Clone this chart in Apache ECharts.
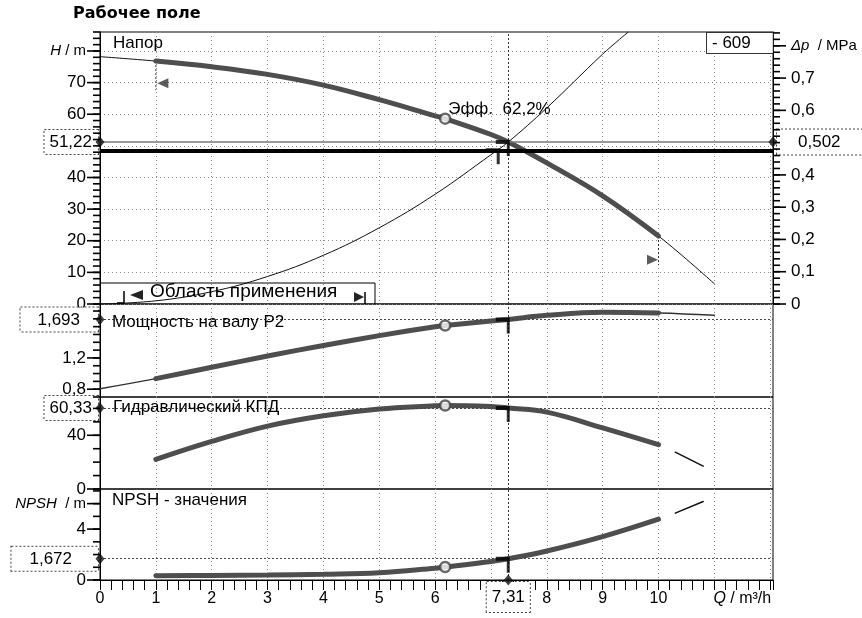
<!DOCTYPE html>
<html><head><meta charset="utf-8">
<script src="https://cdn.jsdelivr.net/npm/echarts@6/dist/echarts.min.js"></script>
<style>html,body{margin:0;padding:0;background:#fff}#c{width:862px;height:618px}</style>
</head><body><div id="c"></div>
<script>
// ---------------- data ----------------
const qHead = [0, 1, 2, 3, 4, 5, 6, 6.18, 7, 7.31, 8, 9, 10, 11];
const head  = [78.2, 76.8, 75.0, 72.6, 69.2, 64.6, 59.5, 58.6, 53.6, 51.22, 44.6, 34.2, 21.5, 6.4];
const qSys  = [0, 1, 2, 3, 4, 5, 6, 7, 7.31, 8, 9, 9.46];
const hSys  = [0, 1.0, 3.9, 8.7, 15.4, 24.1, 34.7, 47.2, 51.22, 62.0, 79.0, 86.0];
const qPow  = [0, 1, 2, 3, 4, 5, 6, 6.18, 7, 7.31, 8, 9, 10, 11];
const power = [0.806, 0.935, 1.08, 1.225, 1.36, 1.485, 1.60, 1.615, 1.672, 1.693, 1.745, 1.783, 1.775, 1.745];
const qEff  = [1, 2, 3, 4, 5, 6, 6.18, 7, 7.31, 8, 9, 10];
const eff   = [22, 35.4, 46.8, 54.5, 59.5, 61.9, 62.2, 61.4, 60.33, 57.2, 45.5, 33.0];
const qEffTail = [10.3, 10.8];
const effTail  = [27.4, 17.0];
const qNpsh = [1, 2, 3, 4, 5, 6, 6.18, 7, 7.31, 8, 9, 10];
const npsh  = [0.34, 0.36, 0.39, 0.45, 0.57, 0.93, 1.02, 1.45, 1.672, 2.28, 3.41, 4.78];
const qNpshTail = [10.3, 10.8];
const npshTail  = [5.25, 6.17];

// operating / best efficiency / duty points
const opQ = 7.31, opH = 51.22, opDp = 0.502, opP = 1.693, opEff = 60.33, opNpsh = 1.672;
const bepQ = 6.18, bepLabel = 'Эфф.  62,2%';
const dutyQ = 7.13, dutyH = 48.6;
const rangeQ = [1, 10];          // application range ends
const rangeLow = [67.6, 12.3];   // lower end of the dotted range lines
const rangeMarkH = [69.8, 14.0]; // triangle markers
const speedLabel = '- 609';

// tick labels
const hLabels = [0, 10, 20, 30, 40, 60, 70];
const dpLabels = [0, 0.1, 0.2, 0.3, 0.4, 0.6, 0.7];
const pLabels = [0.8, 1.2];
const effLabels = [0, 40];
const npshLabels = [0, 4];
const xLabels = [0, 1, 2, 3, 4, 5, 6, 8, 9, 10];

// ---------------- layout ----------------
const FONT = '"Liberation Sans", Arial, sans-serif';
const GL = 100, GR = 89, RIGHT = 862 - GR;
const tops = [32, 304, 397, 489], hts = [272, 93, 92, 91];
const xMin = 0, xMax = 12.05;
const hMax = 86, mpaPerM = 0.0098;
const dpMax = hMax * mpaPerM;
const pMin = 0.7, pMax = 1.89, effMax = 68.5, npshMax = 7.15;
const hName = 80, dpName = 0.8, npshName = 6, qName = 11.5;

const comma = v => String(Math.round(v * 1000) / 1000).replace('.', ',');
const near = (a, b) => Math.abs(a - b) < 1e-6;
const pairs = (qs, vs) => qs.map((q, i) => [q, vs[i]]);
const seg = (qs, vs, lo, hi) => pairs(qs, vs).filter(p => p[0] >= lo && p[0] <= hi);
const valAt = (qs, vs, q) => vs[qs.indexOf(q)];
// tick positions every `step` from min to max
const steps = (min, max, step) => {
  const out = []; const n = Math.floor((max - min) / step + 1e-9);
  for (let k = 0; k <= n; k++) out.push(Math.round((min + k * step) * 1e6) / 1e6);
  return out;
};

const baseRich = {
  n: {fontSize: 17, fontFamily: FONT, color: '#000', padding: [0, 12, 0, 0]},
  i: {fontSize: 15, fontFamily: FONT, fontStyle: 'italic', color: '#000'},
  m: {fontSize: 15, fontFamily: FONT, color: '#000', padding: [0, 12, 0, 0]}
};
const boxStyle = (pad) => ({fontSize: 17, fontFamily: FONT, color: '#000', borderColor: '#444',
  borderWidth: 1, borderType: 'dotted', padding: pad, backgroundColor: '#fff'});

function leftAxis(gi, min, max, labels, boxV, boxPad, nameV, nameText, split) {
  const all = labels.concat(nameV != null ? [nameV] : []).concat([boxV]);
  return {
    type: 'value', gridIndex: gi, min, max, position: 'left',
    interval: split ? split : undefined,
    axisLine: {show: true, onZero: false, lineStyle: {color: '#000', width: 1}},
    axisTick: {show: false},
    axisLabel: {
      show: true, margin: 2, hideOverlap: false, customValues: all,
      formatter: v => near(v, boxV) ? '{box|' + comma(v) + '}' :
        (nameV != null && near(v, nameV)) ? nameText : '{n|' + comma(v) + '}',
      rich: Object.assign({}, baseRich, {box: boxStyle(boxPad)})
    },
    splitLine: split ? {show: true, lineStyle: {color: '#888', type: [1, 3], width: 1}} : {show: false}
  };
}

const rightAxis = {
  type: 'value', gridIndex: 0, min: 0, max: dpMax, position: 'right',
  axisLine: {show: true, onZero: false, lineStyle: {color: '#000', width: 1}},
  axisTick: {show: false},
  axisLabel: {
    show: true, margin: 4, hideOverlap: false, customValues: dpLabels.concat([dpName, opDp]),
    formatter: v => near(v, opDp) ? '{box|' + comma(v) + '}' :
      near(v, dpName) ? '{ri|Δp}{rm|  / MPa}' : '{rn|' + comma(v) + '}',
    rich: {
      rn: {fontSize: 17, fontFamily: FONT, color: '#000', padding: [0, 0, 0, 14]},
      ri: {fontSize: 15, fontFamily: FONT, fontStyle: 'italic', color: '#000', padding: [0, 0, 0, 14]},
      rm: {fontSize: 15, fontFamily: FONT, color: '#000'},
      box: boxStyle([4, 30, 4, 21])
    }
  },
  splitLine: {show: false}
};

const yAxes = [
  leftAxis(0, 0, hMax, hLabels, opH, [4, 6, 3, 5], hName, '{i|H}{m| / m}', 10),          // 0
  rightAxis,                                                                              // 1
  leftAxis(1, pMin, pMax, pLabels, opP, [4, 18, 3, 17], null, ''),                        // 2
  leftAxis(2, 0, effMax, effLabels, opEff, [4, 6, 3, 5], null, ''),                       // 3
  leftAxis(3, 0, npshMax, npshLabels, opNpsh, [4, 26, 3, 18], npshName, '{i|NPSH}{m|  / m}') // 4
];
// y ticks: [xAxisIndex, yAxisIndex, minor positions, long positions, side]
const yTicks = [
  [0, 0, steps(0, hMax, 2), hLabels.concat([hName]), 'left'],
  [0, 1, steps(0, dpMax, 0.02), dpLabels.concat([dpName]), 'right'],
  [1, 2, steps(pMin, pMax, 0.1), pLabels, 'left'],
  [2, 3, steps(0, effMax, 10), effLabels, 'left'],
  [3, 4, steps(0, npshMax, 1), npshLabels.concat([npshName]), 'left']
];

const xAxes = [0, 1, 2, 3].map(gi => {
  const bottom = gi === 3;
  return {
    type: 'value', gridIndex: gi, min: xMin, max: xMax, interval: 1,
    axisLine: {show: bottom, onZero: false, lineStyle: {color: '#000'}},
    axisTick: {show: bottom, length: 10, lineStyle: {color: '#000', width: 1}},
    axisLabel: bottom ? {
      show: true, margin: 2, hideOverlap: false,
      customValues: xLabels.concat([opQ, qName]),
      formatter: v => near(v, opQ) ? '{box|' + comma(v) + '}' :
        near(v, qName) ? '{qi|Q}{qu| / m³/h}' : '{n|' + v + '}',
      rich: {
        n: {fontSize: 16, fontFamily: FONT, color: '#000', padding: [9, 0, 0, 0]},
        qi: {fontSize: 16, fontFamily: FONT, fontStyle: 'italic', color: '#000', padding: [9, 0, 0, 0]},
        qu: {fontSize: 16, fontFamily: FONT, color: '#000', padding: [9, 0, 0, 0]},
        box: boxStyle([7, 5, 6, 5])
      }
    } : {show: false},
    splitLine: {show: true, lineStyle: {color: '#888', type: [1, 3], width: 1}}
  };
});
// second x axis in the bottom grid carrying the 0.2-step ticks
xAxes.push({
  type: 'value', gridIndex: 3, min: xMin, max: xMax, position: 'bottom',
  axisLine: {show: true, onZero: false, lineStyle: {color: '#000'}},
  axisTick: {show: true, length: 10, customValues: steps(xMin, xMax, 0.2), lineStyle: {color: '#000', width: 1}},
  axisLabel: {show: false}, splitLine: {show: false}
});

const grids = tops.map((t, i) => ({left: GL, right: GR, top: t, height: hts[i], show: true,
  borderColor: '#000', borderWidth: 1, backgroundColor: 'transparent', outerBoundsMode: 'none', containLabel: false}));

const THICK = '#4e4e4e';
const line = (xi, yi, data, width, color, extra) => Object.assign({
  type: 'line', xAxisIndex: xi, yAxisIndex: yi, data, smooth: 0.4, symbol: 'none',
  lineStyle: {width, color, cap: 'round'}, silent: true, z: 3}, extra || {});
const mk = items => ({silent: true, symbol: ['none', 'none'], label: {show: false}, animation: false, data: items});
const dotH = (v, c) => ({yAxis: v, lineStyle: {color: c || '#444', type: [2, 2], width: 1}});
const dotV = {xAxis: opQ, lineStyle: {color: '#333', type: [2, 2], width: 1}};
const pts = (xi, yi, data, symbol, size, style, extra) => Object.assign({
  type: 'scatter', xAxisIndex: xi, yAxisIndex: yi, data, symbol, symbolSize: size,
  itemStyle: style, clip: false, silent: true, z: 8}, extra || {});
const T_SYM = 'path://M0,0L14,0L14,16L11,16L11,4L0,4Z';
const BAR = 'path://M0,0L10,0L10,2L0,2Z';
const tMark = (xi, yi, data) => pts(xi, yi, data, T_SYM, [14, 16], {color: '#000'}, {symbolOffset: [-5.5, 6]});
const circ = (xi, yi, data) => pts(xi, yi, data, 'circle', 10, {color: '#fff', borderColor: '#444', borderWidth: 2.5});
const diam = (xi, yi, data) => pts(xi, yi, data, 'diamond', [9, 11], {color: '#111'});
// axis ticks drawn as short bars at the axis edge, positioned by the axis scale
const tickBars = (xi, yi, vals, len, side) => pts(xi, yi, vals.map(v => [side === 'left' ? xMin : xMax, v]),
  BAR, [len, 1.6], {color: '#000', opacity: 1}, {symbolOffset: [(side === 'left' ? -1 : 1) * len / 2, 0], z: 20});

const series = [
  // ---- head panel ----
  line(0, 0, pairs(qHead, head), 1, '#111'),
  line(0, 0, seg(qHead, head, rangeQ[0], rangeQ[1]), 5, THICK, {z: 4,
    markLine: mk([{yAxis: opH, lineStyle: {color: '#777', type: 'solid', width: 1.5}},
                  {yAxis: dutyH, lineStyle: {color: '#000', type: 'solid', width: 4}}, dotV])}),
  line(0, 0, pairs(qSys, hSys), 1, '#111', {z: 2}),
  line(0, 0, [[rangeQ[0], valAt(qHead, head, rangeQ[0])], [rangeQ[0], rangeLow[0]]], 1, '#333', {smooth: false, lineStyle: {width: 1, color: '#333', type: [2, 2]}}),
  line(0, 0, [[rangeQ[1], valAt(qHead, head, rangeQ[1])], [rangeQ[1], rangeLow[1]]], 1, '#333', {smooth: false, lineStyle: {width: 1, color: '#333', type: [2, 2]}}),
  pts(0, 0, [[rangeQ[0], rangeMarkH[0]]], 'triangle', [10, 11], {color: '#333'}, {symbolRotate: 90, symbolOffset: [7, 0]}),
  pts(0, 0, [[rangeQ[1], rangeMarkH[1]]], 'triangle', [10, 11], {color: '#333'}, {symbolRotate: -90, symbolOffset: [-6, 0]}),
  tMark(0, 0, [[opQ, opH], [dutyQ, dutyH]]),
  circ(0, 0, [[bepQ, valAt(qHead, head, bepQ)]]),
  diam(0, 0, [[xMin, opH], [xMax, opH]]),
  // ---- power panel ----
  line(1, 2, pairs(qPow, power), 1.5, '#333'),
  line(1, 2, seg(qPow, power, rangeQ[0], rangeQ[1]), 5, THICK, {z: 4, markLine: mk([dotH(opP), dotV])}),
  tMark(1, 2, [[opQ, opP]]),
  circ(1, 2, [[bepQ, valAt(qPow, power, bepQ)]]),
  diam(1, 2, [[xMin, opP]]),
  // ---- efficiency panel ----
  line(2, 3, pairs(qEff, eff), 5, THICK, {z: 4, markLine: mk([dotH(opEff), dotV])}),
  line(2, 3, pairs(qEffTail, effTail), 1.5, '#111', {smooth: false}),
  tMark(2, 3, [[opQ, opEff]]),
  circ(2, 3, [[bepQ, valAt(qEff, eff, bepQ)]]),
  diam(2, 3, [[xMin, opEff]]),
  // ---- NPSH panel ----
  line(3, 4, pairs(qNpsh, npsh), 5, THICK, {z: 4, markLine: mk([dotH(opNpsh), dotV])}),
  line(3, 4, pairs(qNpshTail, npshTail), 1.5, '#111', {smooth: false}),
  tMark(3, 4, [[opQ, opNpsh]]),
  circ(3, 4, [[bepQ, valAt(qNpsh, npsh, bepQ)]]),
  diam(3, 4, [[xMin, opNpsh], [opQ, 0]])
];
yTicks.forEach(([xi, yi, minor, long, side]) => {
  series.push(tickBars(xi, yi, minor, 7, side));
  series.push(tickBars(xi, yi, long, 13, side));
});

const txt = (x, y, text, size, extra) => ({type: 'text', x, y, silent: true, z: 10,
  style: Object.assign({text, font: size + 'px ' + FONT, fill: '#000', verticalAlign: 'top', align: 'left'}, extra || {})});
const graphic = [
  {type: 'text', x: 73, y: 6, z: 10, style: {text: 'Рабочее поле', font: 'bold 16px "DejaVu Sans", sans-serif', fill: '#000', verticalAlign: 'top'}},
  txt(GL + 13, tops[0] + 3, 'Напор', 17),
  txt(GL + 12, tops[1] + 10, 'Мощность на валу P2', 17),
  txt(GL + 13, tops[2] + 2, 'Гидравлический КПД', 17),
  txt(GL + 12, tops[3] + 3, 'NPSH - значения', 17),
  txt(RIGHT - 66, tops[0] + 1, speedLabel, 17, {backgroundColor: '#fff', borderColor: '#333', borderWidth: 1, padding: [2, 22, 1, 5]}),
  // application range box
  {type: 'polyline', silent: true, z: 9, shape: {points: [[GL, 283], [375, 283], [375, tops[1]]]}, style: {stroke: '#000', lineWidth: 1, fill: null}},
  {type: 'polyline', silent: true, z: 9, shape: {points: [[117, 303], [124, 303], [124, 291]]}, style: {stroke: '#000', lineWidth: 1.5, fill: null}},
  {type: 'polyline', silent: true, z: 9, shape: {points: [[365, 292], [365, 304]]}, style: {stroke: '#000', lineWidth: 1.5, fill: null}},
  {type: 'polygon', silent: true, z: 9, shape: {points: [[130, 295], [143, 290], [143, 300]]}, style: {fill: '#222'}},
  {type: 'polygon', silent: true, z: 9, shape: {points: [[364, 297], [354, 292], [354, 302]]}, style: {fill: '#222'}},
  txt(150, 282, 'Область применения', 19)
];

const chart = echarts.init(document.getElementById('c'), null, {renderer: 'canvas'});
chart.setOption({
  animation: false,
  backgroundColor: '#fff',
  textStyle: {fontFamily: FONT},
  grid: grids,
  xAxis: xAxes,
  yAxis: yAxes,
  series,
  graphic
});

// efficiency note placed next to the best-efficiency marker through the axes
const bepPx = chart.convertToPixel({xAxisIndex: 0, yAxisIndex: 0}, [bepQ, valAt(qHead, head, bepQ)]);
chart.setOption({graphic: graphic.concat([txt(bepPx[0] + 3, bepPx[1] - 18, bepLabel, 17)])});
</script></body></html>
